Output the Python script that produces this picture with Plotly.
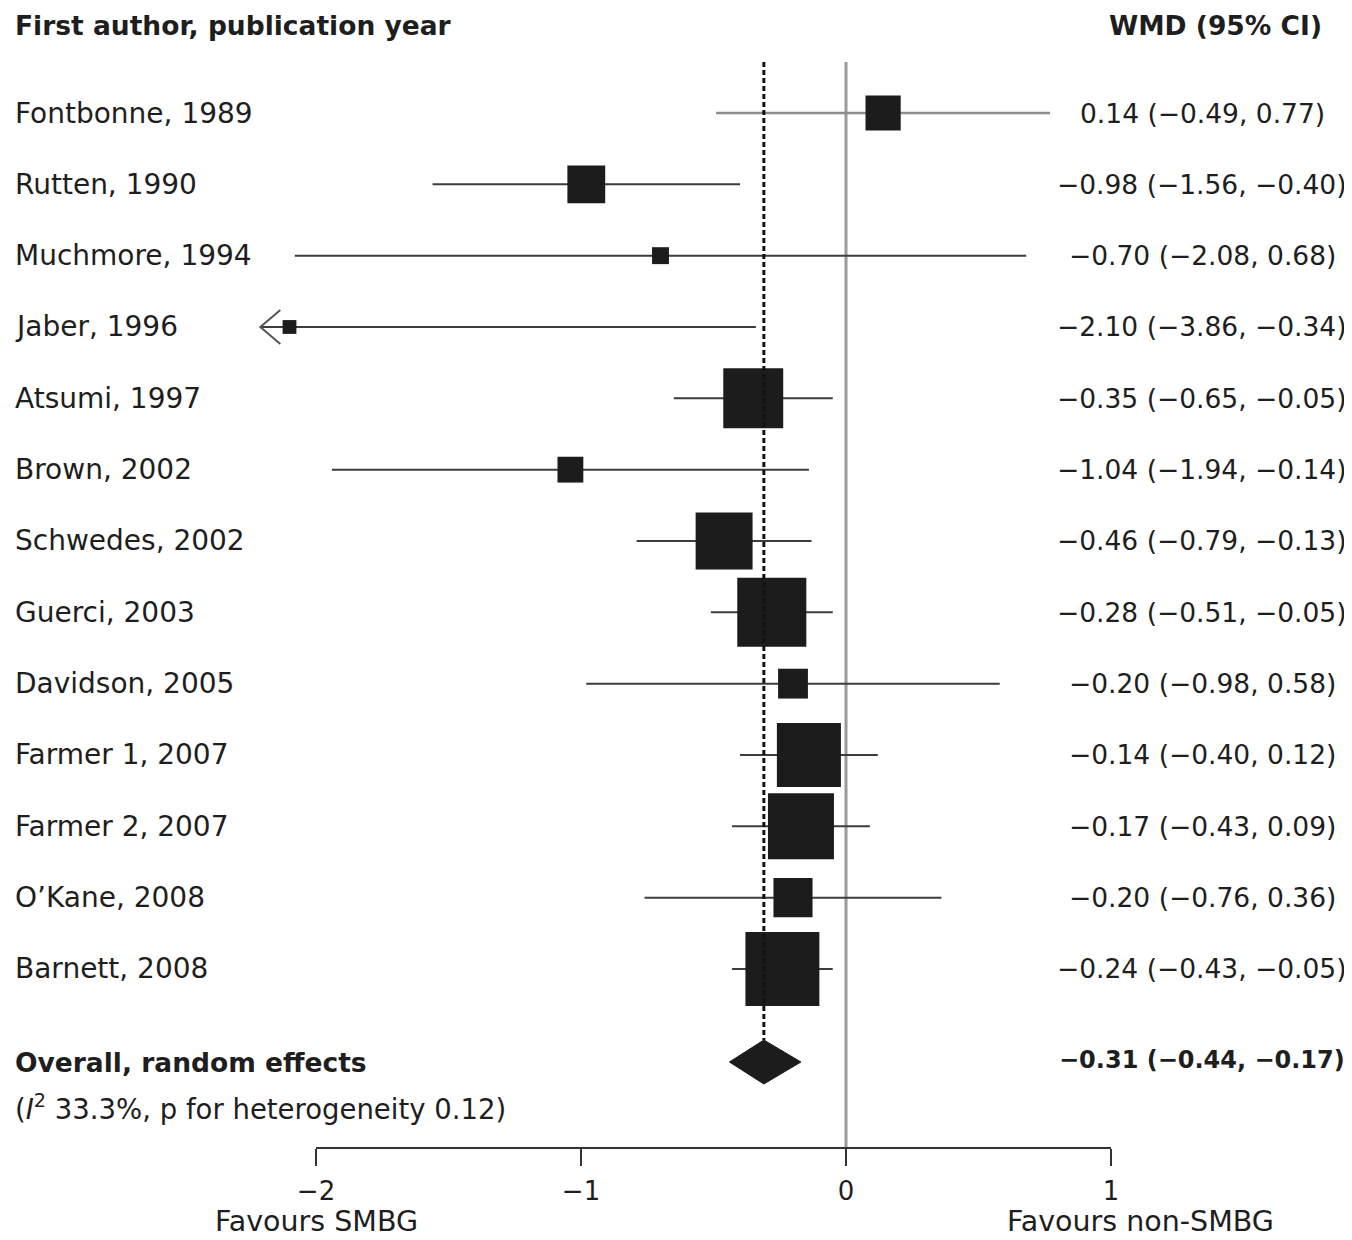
import plotly.graph_objects as go

# ---------------- data ----------------
studies = ["Fontbonne, 1989", "Rutten, 1990", "Muchmore, 1994", "Jaber, 1996",
           "Atsumi, 1997", "Brown, 2002", "Schwedes, 2002", "Guerci, 2003",
           "Davidson, 2005", "Farmer 1, 2007", "Farmer 2, 2007", "O’Kane, 2008",
           "Barnett, 2008"]
wmd = [0.14, -0.98, -0.70, -2.10, -0.35, -1.04, -0.46, -0.28, -0.20, -0.14, -0.17, -0.20, -0.24]
ci_low = [-0.49, -1.56, -2.08, -3.86, -0.65, -1.94, -0.79, -0.51, -0.98, -0.40, -0.43, -0.76, -0.43]
ci_high = [0.77, -0.40, 0.68, -0.34, -0.05, -0.14, -0.13, -0.05, 0.58, 0.12, 0.09, 0.36, -0.05]
weights = [3.9, 4.5, 0.9, 0.6, 11.3, 2.1, 10.2, 15.0, 2.8, 12.9, 13.7, 4.8, 17.2]  # % (approx.)
overall_label = "Overall, random effects"
overall_est, overall_low, overall_high = -0.31, -0.44, -0.17
heterogeneity = "(<i>I</i><sup>2</sup> 33.3%, p for heterogeneity 0.12)"
tick_vals = [-2, -1, 0, 1]
tick_text = ["−2", "−1", "0", "1"]
favour_left = "Favours SMBG"
favour_right = "Favours non-SMBG"
header_left = "First author, publication year"
header_right = "WMD (95% CI)"

# ---------------- layout constants ----------------
OFF = 8                            # default page margin of the browser
W, H = 1352 - OFF, 1240 - OFF
x0_px, unit_px = 846 - OFF, 265    # pixel of x=0, pixels per unit
row_px0, row_step = 113 - OFF, 71.33
axis_px = 1148 - OFF               # pixel of the x axis line
XR = [(0 - x0_px) / unit_px, (W - x0_px) / unit_px]
YR = [(axis_px - row_px0) / row_step, (0 - row_px0) / row_step]
clip_low = -2.21
FONT = "DejaVu Sans"
TXT = "#1e1e1e"
BOX = "#1c1c1c"


def ypx(p):
    return (p - OFF - row_px0) / row_step


def xpaper(p):
    return (p - OFF) / W


def fmt(v):
    return f"{v:.2f}".replace("-", "−")


n = len(studies)
ys = list(range(n))
y_overall = ypx(1062)
y_het = ypx(1107)
y_head = ypx(25)
y_top = ypx(62)

fig = go.Figure()

# CI lines
light = [0]
for grp, col, wd in [([i for i in range(n) if i in light], "#8c8c8c", 2.4),
                     ([i for i in range(n) if i not in light], "#3c3c3c", 2)]:
    xs, yy = [], []
    for i in grp:
        xs += [max(ci_low[i], clip_low), ci_high[i], None]
        yy += [ys[i], ys[i], None]
    fig.add_trace(go.Scatter(x=xs, y=yy, mode="lines", line=dict(color=col, width=wd),
                             hoverinfo="skip", showlegend=False))

# open arrow heads for clipped CIs
for i in range(n):
    if ci_low[i] < clip_low:
        dx, dy = 20 / unit_px, 17 / row_step
        fig.add_trace(go.Scatter(x=[clip_low + dx, clip_low, clip_low + dx],
                                 y=[ys[i] - dy, ys[i], ys[i] + dy], mode="lines",
                                 line=dict(color="#555555", width=2),
                                 hoverinfo="skip", showlegend=False))

# reference lines
fig.add_shape(type="line", xref="x", yref="y", x0=0, x1=0, y0=y_top, y1=YR[0],
              line=dict(color="#9a9a9a", width=3), layer="below")
fig.add_shape(type="line", xref="x", yref="y", x0=overall_est, x1=overall_est,
              y0=y_top, y1=y_overall - 22 / row_step,
              line=dict(color="#111111", width=3, dash="5px,3px"), layer="above")

# boxes (area proportional to weight)
sizes = [17.83 * (w ** 0.5) for w in weights]
fig.add_trace(go.Scatter(x=wmd, y=ys, mode="markers",
                         marker=dict(symbol="square", size=sizes, color=BOX, opacity=1,
                                     line=dict(width=0)),
                         hoverinfo="skip", showlegend=False))

# diamond
dh = 22 / row_step
fig.add_trace(go.Scatter(x=[overall_low, overall_est, overall_high, overall_est, overall_low],
                         y=[y_overall, y_overall - dh, y_overall, y_overall + dh, y_overall],
                         mode="lines", fill="toself", fillcolor=BOX,
                         line=dict(color=BOX, width=1),
                         hoverinfo="skip", showlegend=False))

# x axis line
fig.add_shape(type="line", xref="x", yref="paper", x0=tick_vals[0], x1=tick_vals[-1],
              y0=0, y1=0, line=dict(color="#333333", width=2))


def note(x, y, text, size, anchor="left", xref="paper", yref="y", yanchor="middle"):
    return dict(x=x, xref=xref, y=y, yref=yref, text=text, xanchor=anchor,
                yanchor=yanchor, showarrow=False,
                font=dict(family=FONT, size=size, color=TXT))


ann = []
for i in range(n):
    ann.append(note(xpaper(13), ys[i], studies[i], 28))
    ann.append(note(xpaper(1202), ys[i],
                    f"{fmt(wmd[i])} ({fmt(ci_low[i])}, {fmt(ci_high[i])})", 26.5,
                    anchor="center"))
ann.append(note(xpaper(13), y_head, f"<b>{header_left}</b>", 26.5))
ann.append(note(xpaper(1324), y_head, f"<b>{header_right}</b>", 26.5, anchor="right"))
ann.append(note(xpaper(13), y_overall, f"<b>{overall_label}</b>", 26.5))
ann.append(note(xpaper(13), y_het, heterogeneity, 27.5))
ann.append(note(xpaper(1202), ypx(1060),
                f"<b>{fmt(overall_est)} ({fmt(overall_low)}, {fmt(overall_high)})</b>",
                24, anchor="center"))
fav_y = -(1240 - OFF - axis_px) / axis_px
ann.append(note(tick_vals[0], fav_y, favour_left, 28.5, anchor="center", xref="x",
                yref="paper", yanchor="bottom"))
ann.append(note(1.11, fav_y, favour_right, 28.5, anchor="center", xref="x",
                yref="paper", yanchor="bottom"))

fig.update_layout(
    width=W, height=H,
    margin=dict(l=0, r=0, t=0, b=H - axis_px),
    plot_bgcolor="white", paper_bgcolor="white",
    annotations=ann,
    xaxis=dict(range=XR, tickvals=tick_vals, ticktext=tick_text, ticks="outside",
               ticklen=17, tickwidth=2, tickcolor="#333333", showline=False,
               showgrid=False, zeroline=False, ticklabelstandoff=3,
               tickfont=dict(family=FONT, size=26, color=TXT), fixedrange=True),
    yaxis=dict(range=YR, visible=False, showgrid=False, zeroline=False, fixedrange=True),
)

fig.write_html("out.html")
